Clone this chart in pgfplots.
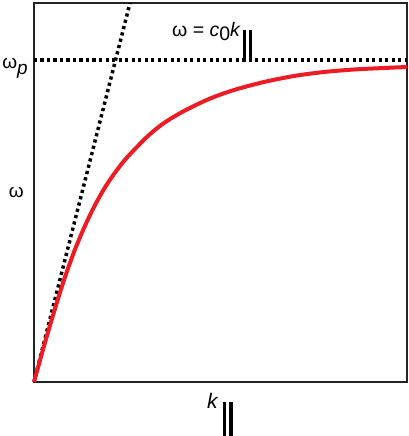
\documentclass[border=0pt]{standalone}
\usepackage{pgfplots}
\pgfplotsset{compat=1.18}
\usepackage{fontspec}
\setmainfont{Liberation Sans}
\definecolor{curvered}{RGB}{237,28,36}
\definecolor{frame}{RGB}{35,35,35}
% double bar used as the "parallel" subscript
\newcommand{\bars}[3]{\rule[#1]{#3}{#2}\hspace{#3}\rule[#1]{#3}{#2}}

\begin{document}
\begin{tikzpicture}
  \begin{axis}[
    at={(0,0)},anchor=south west,
    scale only axis,width=373pt,height=379pt,
    xmin=0,xmax=373,ymin=0,ymax=379,
    xtick=\empty,ytick=\empty,
    axis line style={frame,line width=1.9pt},
    clip=false]
  % light line omega = c0 k
  \addplot[black,line width=3.5pt,dash pattern=on 3.2pt off 3.3pt] coordinates {(0,0) (96,379)};
  % plasma frequency
  \addplot[black,line width=3.1pt,dash pattern=on 3.1pt off 3.4pt] coordinates {(0,322) (373,322)};
  % dispersion curve
  \addplot[curvered,line width=4pt,smooth] coordinates {
    (0,0) (10,36) (20,70) (30,102) (40,130) (50,154) (60,175) (70,193)
    (80,208) (90,221) (100,232) (115,247) (130,259) (150,271) (175,283)
    (200,292) (230,300) (260,306) (290,310) (320,312.5) (350,314) (373,315)};
  \node[anchor=base east,font=\fontsize{19}{20}\selectfont,inner sep=0pt]
    at (axis cs:-6,313) {ω\textit{\raisebox{-6pt}{p}}};
  \node[anchor=base east,font=\fontsize{19}{20}\selectfont,inner sep=0pt]
    at (axis cs:-10,184) {ω};
  \node[anchor=base west,font=\fontsize{19.5}{20}\selectfont,inner sep=0pt]
    at (axis cs:138,345) {ω = \textit{c}\raisebox{-4pt}{0}\textit{k}\kern2pt\bars{-25pt}{32pt}{2.9pt}};
  \node[anchor=base west,font=\fontsize{21}{22}\selectfont,inner sep=0pt]
    at (axis cs:173,-26) {\textit{k}\kern4pt\bars{-28pt}{34pt}{3.4pt}};
  \end{axis}
  \useasboundingbox (-34pt,-54pt) rectangle (375pt,382pt);
\end{tikzpicture}
\end{document}
